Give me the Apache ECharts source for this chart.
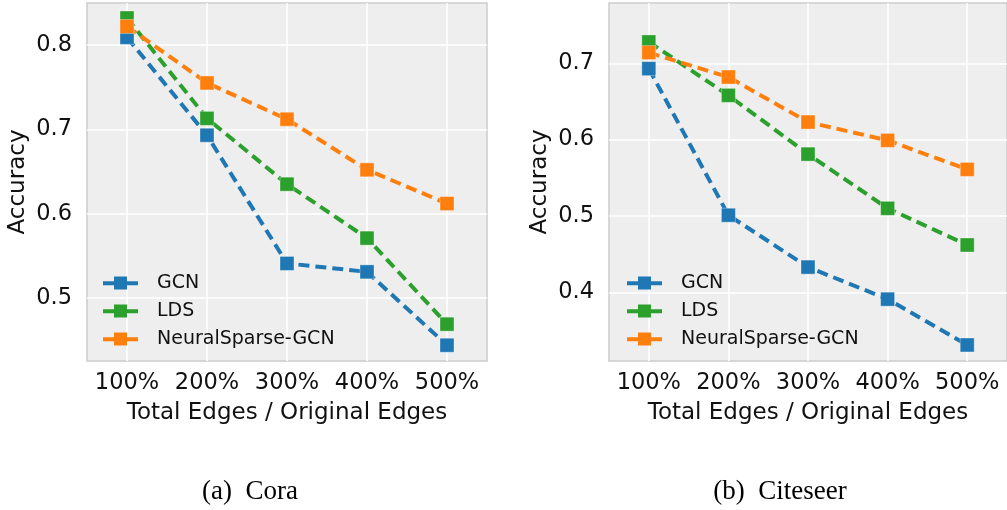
<!DOCTYPE html>
<html>
<head>
<meta charset="utf-8">
<script src="https://cdn.jsdelivr.net/npm/echarts@6/dist/echarts.min.js"></script>
<style>
  html, body { margin: 0; padding: 0; background: #fff; }
  #chart { width: 1007px; height: 510px; }
</style>
</head>
<body>
<div id="chart"></div>
<script>
// Edge ratio categories shared by both panels
const categories = ['100%', '200%', '300%', '400%', '500%'];
const seriesNames = ['GCN', 'LDS', 'NeuralSparse-GCN'];

// Cora accuracies
const coraGCN = [0.809, 0.693, 0.541, 0.531, 0.444];
const coraLDS = [0.832, 0.713, 0.635, 0.571, 0.469];
const coraNeuralSparse = [0.822, 0.755, 0.712, 0.652, 0.612];

// Citeseer accuracies
const citeGCN = [0.693, 0.501, 0.433, 0.391, 0.331];
const citeLDS = [0.728, 0.658, 0.581, 0.510, 0.462];
const citeNeuralSparse = [0.714, 0.682, 0.623, 0.599, 0.561];

// Y tick values per panel
const coraTicks = [0.5, 0.6, 0.7, 0.8];
const citeTicks = [0.4, 0.5, 0.6, 0.7];

const captions = ['(a)  Cora', '(b)  Citeseer'];
const xTitle = 'Total Edges / Original Edges';
const yTitle = 'Accuracy';

const COLORS = { GCN: '#1f77b4', LDS: '#2ca02c', 'NeuralSparse-GCN': '#ff7f0e' };
const SANS = '"DejaVu Sans", sans-serif';
// legend glyph: solid bar with a square marker in the middle
const LEGEND_ICON = 'path://M0,4.75 L35,4.75 L35,8.75 L0,8.75 Z M11,0 L24,0 L24,13 L11,13 Z';

const panels = [
  { left: 87, width: 400, min: 0.4253, max: 0.8498, ticks: coraTicks,
    data: [coraGCN, coraLDS, coraNeuralSparse], legendLeft: 98, captionX: 250 },
  { left: 609, width: 398, min: 0.310, max: 0.779, ticks: citeTicks,
    data: [citeGCN, citeLDS, citeNeuralSparse], legendLeft: 622, captionX: 780 }
];

const grid = panels.map(p => ({
  left: p.left, width: p.width, top: 3, height: 358,
  show: true, backgroundColor: '#eeeeee', borderColor: '#cbcbcb', borderWidth: 1.5,
  containLabel: false
}));

const xAxis = panels.map((p, i) => ({
  type: 'category', gridIndex: i, data: categories, boundaryGap: true,
  axisLine: { show: false }, axisTick: { show: false }, splitLine: { show: false },
  axisLabel: { color: '#111', fontFamily: SANS, fontSize: 22.5, margin: 11, interval: 0 },
  name: xTitle, nameLocation: 'middle', nameGap: 41,
  nameTextStyle: { color: '#111', fontFamily: SANS, fontSize: 23 }
}));

const yAxis = panels.map((p, i) => ({
  type: 'value', gridIndex: i, min: p.min, max: p.max,
  axisLine: { show: false }, axisTick: { show: false }, splitLine: { show: false },
  axisLabel: {
    customValues: p.ticks, formatter: v => v.toFixed(1),
    color: '#111', fontFamily: SANS, fontSize: 22.5, margin: 15
  },
  name: yTitle, nameLocation: 'middle', nameGap: 57,
  nameTextStyle: { color: '#111', fontFamily: SANS, fontSize: 23 }
}));

const series = [];
panels.forEach((p, i) => {
  // white grid lines at every tick
  series.push({
    type: 'line', xAxisIndex: i, yAxisIndex: i, data: [], z: 1, silent: true,
    markLine: {
      silent: true, symbol: 'none', z: 1, animation: false,
      label: { show: false },
      lineStyle: { color: '#ffffff', width: 1.5, type: 'solid' },
      emphasis: { disabled: true },
      data: p.ticks.map(v => ({ yAxis: v })).concat(categories.map(c => ({ xAxis: c })))
    }
  });
  seriesNames.forEach((name, k) => {
    series.push({
      name, type: 'line', xAxisIndex: i, yAxisIndex: i, data: p.data[k], z: 3,
      symbol: 'rect', symbolSize: 14,
      itemStyle: { color: COLORS[name], borderColor: 'rgba(255,255,255,0.35)', borderWidth: 1 },
      lineStyle: { color: COLORS[name], width: 4, type: [11, 6] },
      emphasis: { disabled: true }
    });
  });
});

const legend = panels.map(p => ({
  data: seriesNames.map(n => ({ name: n, icon: LEGEND_ICON, itemStyle: { color: COLORS[n], borderWidth: 0 } })),
  orient: 'vertical', left: p.legendLeft, top: 268,
  itemWidth: 35, itemHeight: 13, itemGap: 8, selectedMode: false,
  textStyle: { color: '#111', fontFamily: SANS, fontSize: 19, lineHeight: 20, padding: [0, 0, 0, 14] }
}));

const graphic = panels.map((p, i) => ({
  type: 'text', x: p.captionX, y: 492,
  style: {
    text: captions[i], fill: '#000', fontFamily: '"Liberation Serif", serif', fontSize: 27,
    align: 'center', verticalAlign: 'middle'
  }
}));

const chart = echarts.init(document.getElementById('chart'), null, { renderer: 'canvas' });
chart.setOption({
  animation: false,
  backgroundColor: '#ffffff',
  grid, xAxis, yAxis, series, legend, graphic
});
</script>
</body>
</html>
